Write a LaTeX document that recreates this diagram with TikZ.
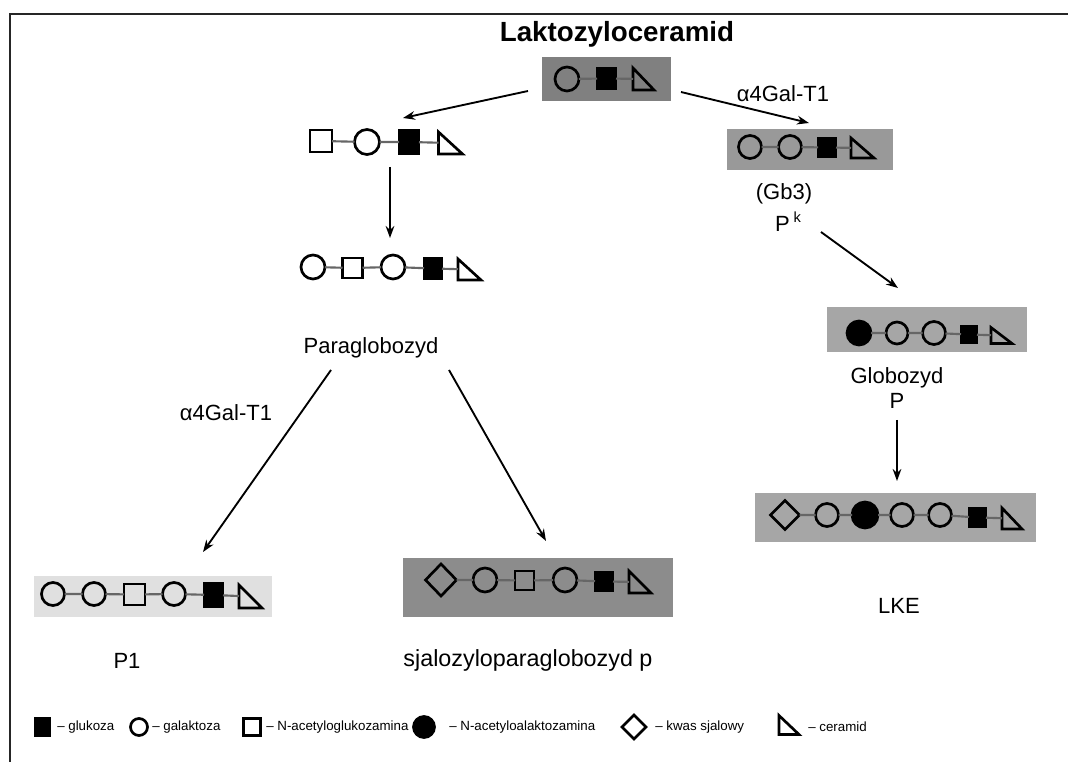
\documentclass[tikz,border=0pt]{standalone}
\usepackage{fontspec}
\setmainfont{Liberation Sans}
\usetikzlibrary{shapes.geometric,arrows.meta}
\tikzset{
 sym/.style={inner sep=0pt, outer sep=0pt, line width=2pt, draw=black},
 oc/.style={sym, circle, minimum size=#1*0.75pt},
 fc/.style={sym, circle, fill=black, minimum size=#1*0.75pt},
 osq/.style 2 args={sym, rectangle, minimum width=#1*0.75pt, minimum height=#2*0.75pt},
 fsq/.style 2 args={sym, rectangle, fill=black, minimum width=#1*0.75pt, minimum height=#2*0.75pt},
 dia/.style 2 args={sym, diamond, minimum width=#1*0.75pt, minimum height=#2*0.75pt},
 triframe/.style 2 args={inner sep=0pt, outer sep=0pt, rectangle, minimum width=#1*0.75pt, minimum height=#2*0.75pt},
 triline/.style={line width=2pt, line join=miter},
 link/.style={draw=black!60, line width=1.6pt},
 arr/.style={line width=1.4pt, -{Stealth[length=9pt,width=6.5pt]}},
 gbox/.style={rectangle, inner sep=0pt, outer sep=0pt, fill=#1},
 lbl/.style={font=\fontsize{16.5}{18}\selectfont, inner sep=0pt},
 leg/.style={font=\fontsize{10}{12}\selectfont, inner sep=0pt, anchor=west},
}
\newcommand\tri[5]{\node[triframe={#4}{#5}] (#1) at (#2,#3) {}; \draw[triline] (#1.north west) -- (#1.south west) -- (#1.south east) -- cycle;}
\newcommand\gbx[6]{\node[gbox=#6, minimum width=#4*0.75pt, minimum height=#5*0.75pt] (#1) at (#2,#3) {};}
\begin{document}
\begin{tikzpicture}[x=0.75pt,y=-0.75pt]
\useasboundingbox (0,0) rectangle (1068,762);
% frame
\draw[line width=1.3pt, draw=black!85] (10,762) -- (10,14) -- (1068,14);

% title
\node[inner sep=0pt, font=\fontsize{20.8}{22}\selectfont\bfseries] (t1) at (617,34) {Laktozyloceramid};

% Box 1: Laktozyloceramid
\gbx{b1}{606.5}{79}{129}{44}{black!50}
\node[oc=24] (s1a) at (567,79) {};
\node[fsq={19}{21}] (s1b) at (606.5,78.5) {};
\tri{s1c}{643.5}{79}{21}{22}
\draw[link] (s1a) -- (s1b) (s1b) -- (s1c);

% Chain 2
\node[osq={22}{22}] (s2a) at (321,141) {};
\node[oc=25] (s2b) at (367,142) {};
\node[fsq={20}{24}] (s2c) at (409,142) {};
\tri{s2d}{450.5}{143}{24}{22}
\draw[link] (s2a) -- (s2b) (s2b) -- (s2c) (s2c) -- (s2d);

% Chain 3
\node[oc=24] (s3a) at (313,267) {};
\node[osq={20}{20}] (s3b) at (352.5,268) {};
\node[oc=24] (s3c) at (393,267) {};
\node[fsq={18}{21}] (s3d) at (433,268.5) {};
\tri{s3e}{469.5}{269.5}{23}{21}
\draw[link] (s3a) -- (s3b) (s3b) -- (s3c) (s3c) -- (s3d) (s3d) -- (s3e);

% Gb3 box
\gbx{b4}{810}{149.5}{166}{41}{black!40}
\node[oc=23] (s4a) at (750,147) {};
\node[oc=23] (s4b) at (790,147) {};
\node[fsq={18}{19}] (s4c) at (827,147.5) {};
\tri{s4d}{862.5}{148}{23}{20}
\draw[link] (s4a) -- (s4b) (s4b) -- (s4c) (s4c) -- (s4d);

% Globozyd box
\gbx{b5}{927}{329.5}{200}{45}{black!35}
\node[fc=24] (s5a) at (859,333) {};
\node[oc=22] (s5b) at (897,333) {};
\node[oc=23] (s5c) at (934,333) {};
\node[fsq={16}{17}] (s5d) at (969,334.5) {};
\tri{s5e}{1001.5}{335.5}{21}{16}
\draw[link] (s5a) -- (s5b) (s5b) -- (s5c) (s5c) -- (s5d) (s5d) -- (s5e);

% LKE box
\gbx{b6}{895.5}{517.5}{281}{49}{black!35}
\node[dia={29}{29}] (s6a) at (785,515) {};
\node[oc=23] (s6b) at (827,515) {};
\node[fc=26] (s6c) at (865,515) {};
\node[oc=23] (s6d) at (902,515) {};
\node[oc=23] (s6e) at (940,515) {};
\node[fsq={17}{19}] (s6f) at (977.5,517.5) {};
\tri{s6g}{1012}{518.5}{20}{21}
\draw[link] (s6a) -- (s6b) (s6b) -- (s6c) (s6c) -- (s6d) (s6d) -- (s6e) (s6e) -- (s6f) (s6f) -- (s6g);

% P1 box
\gbx{b7}{153}{596.5}{238}{41}{black!12}
\node[oc=23] (s7a) at (53,594) {};
\node[oc=23] (s7b) at (94,594) {};
\node[osq={21}{21}] (s7c) at (134.5,594.5) {};
\node[oc=23] (s7d) at (174,594) {};
\node[fsq={19}{24}] (s7e) at (213.5,595) {};
\tri{s7f}{250.5}{596.5}{23}{23}
\draw[link] (s7a) -- (s7b) (s7b) -- (s7c) (s7c) -- (s7d) (s7d) -- (s7e) (s7e) -- (s7f);

% Sjalozyloparaglobozyd box
\gbx{b8}{538}{587.5}{270}{59}{black!45}
\node[dia={31}{32}] (s8a) at (441,580) {};
\node[oc=24] (s8b) at (485,580) {};
\node[osq={19}{19}] (s8c) at (524.5,580.5) {};
\node[oc=24] (s8d) at (565,580) {};
\node[fsq={18}{19}] (s8e) at (604,581.5) {};
\tri{s8f}{640}{582}{22}{22}
\draw[link] (s8a) -- (s8b) (s8b) -- (s8c) (s8c) -- (s8d) (s8d) -- (s8e) (s8e) -- (s8f);

% labels
\node[lbl] (t2) at (783,94) {α4Gal-T1};
\node[lbl] (t3) at (784,194) {(Gb3)};
\node[lbl] (t4) at (788,222) {P\hspace{3pt}\raisebox{7pt}{\fontsize{11}{12}\selectfont k}};
\node[lbl] (t5) at (371,348) {Paraglobozyd};
\node[lbl] (t6) at (226,413) {α4Gal-T1};
\node[lbl] (t7) at (897,378) {Globozyd};
\node[lbl] (t8) at (897,401) {P};
\node[lbl] (t9) at (127,661) {P1};
\node[lbl, font=\fontsize{17.5}{19}\selectfont] (t10) at (528,660) {sjalozyloparaglobozyd p};
\node[lbl] (t11) at (899,606) {LKE};

% arrows
\coordinate (a1s) at (528,91);  \coordinate (a1e) at (403,118);
\coordinate (a2s) at (681,92);  \coordinate (a2e) at (809,123);
\coordinate (a3s) at (390,167); \coordinate (a3e) at (390,238);
\coordinate (a4s) at (821,232); \coordinate (a4e) at (898,288);
\coordinate (a5s) at (331,370); \coordinate (a5e) at (203,552);
\coordinate (a6s) at (449,370); \coordinate (a6e) at (546,541);
\coordinate (a7s) at (897,420); \coordinate (a7e) at (897,481);
\draw[arr] (a1s) -- (a1e);
\draw[arr] (a2s) -- (a2e);
\draw[arr] (a3s) -- (a3e);
\draw[arr] (a4s) -- (a4e);
\draw[arr] (a5s) -- (a5e);
\draw[arr] (a6s) -- (a6e);
\draw[arr] (a7s) -- (a7e);

% legend
\node[fsq={14}{18}] (L1) at (42.5,727) {};
\node[leg] (L1t) at (57,727) {– glukoza};
\node[oc=17] (L2) at (139,727) {};
\node[leg] (L2t) at (152,727) {– galaktoza};
\node[osq={17}{17}] (L3) at (252,727) {};
\node[leg] (L3t) at (266,727) {– N-acetyloglukozamina};
\node[fc=21] (L4) at (424,727) {};
\node[leg] (L4t) at (449,727) {– N-acetyloalaktozamina};
\node[dia={24}{24}] (L5) at (634,727) {};
\node[leg] (L5t) at (655,727) {– kwas sjalowy};
\tri{L6}{789}{725}{20}{19}
\node[leg] (L6t) at (808,727) {– ceramid};
\end{tikzpicture}
\end{document}
